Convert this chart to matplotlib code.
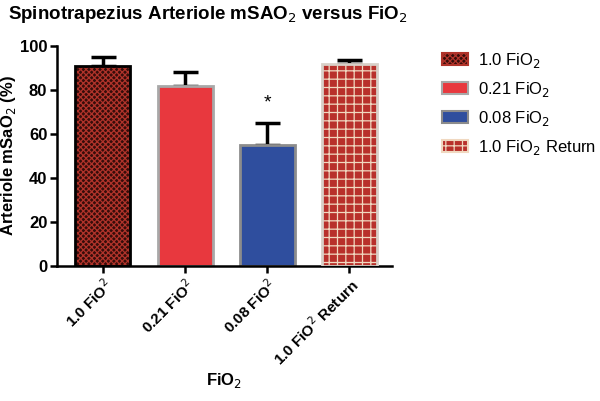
import matplotlib.pyplot as plt
from matplotlib.patches import Patch

plt.rcParams['font.family'] = ['Liberation Sans', 'DejaVu Sans']
plt.rcParams['hatch.linewidth'] = 0.9

# data
groups = ['1.0 FiO$^2$', '0.21 FiO$^2$', '0.08 FiO$^2$', '1.0 FiO$^2$ Return']
legend_labels = ['1.0 FiO$_2$', '0.21 FiO$_2$', '0.08 FiO$_2$', '1.0 FiO$_2$ Return']
means = [91, 82, 55, 92]
sem = [4, 6, 10, 1.6]
star_idx = 2
star_y = 74

faces = ['#360d0a', '#e8383e', '#2f4e9e', '#b8302b']
hatches = ['xxxxxx', None, None, '++']
hatch_cols = ['#b0332a', None, None, '#f0d8c0']
edges = ['black', '#a8a8a8', '#8c8c8c', '#d8d0c8']

fig = plt.figure(figsize=(6, 4.01), dpi=100)
ax = fig.add_axes([0.095, 0.337, 0.558, 0.548])

x = list(range(len(means)))
w = 0.67
for i in x:
    if hatches[i]:
        ax.bar(i, means[i], width=w, color=faces[i], hatch=hatches[i],
               edgecolor=hatch_cols[i], linewidth=0, zorder=2)
        ax.bar(i, means[i], width=w, fill=False, edgecolor=edges[i],
               linewidth=2, zorder=3)
    else:
        ax.bar(i, means[i], width=w, color=faces[i], edgecolor=edges[i],
               linewidth=2, zorder=2)

ax.errorbar(x, means, yerr=[[0] * len(sem), sem], fmt='none', ecolor='black',
            elinewidth=2.5, capsize=9, capthick=2.5, zorder=1)
ax.text(star_idx, star_y, '*', ha='center', va='center', fontsize=14)

ax.set_xlim(-0.56, 3.52)
ax.set_ylim(0, 100)
ax.set_yticks([0, 20, 40, 60, 80, 100])
ax.set_xticks(x)
ax.set_xticklabels(groups, rotation=45, ha='right', rotation_mode='anchor',
                   fontsize=11, fontweight='bold')
for lab in ax.get_yticklabels():
    lab.set_fontsize(12)
    lab.set_fontweight('bold')
for s in ['top', 'right']:
    ax.spines[s].set_visible(False)
for s in ['left', 'bottom']:
    ax.spines[s].set_linewidth(1.8)
ax.tick_params(width=1.8, length=5, pad=2)

ax.set_ylabel('Arteriole mSaO$_2$ (%)', fontsize=12, fontweight='bold')
ax.yaxis.set_label_coords(-0.115, 0.5)
ax.set_xlabel('FiO$_2$', fontsize=12, fontweight='bold')
ax.xaxis.set_label_coords(0.5, -0.48)
fig.text(0.013, 0.963, 'Spinotrapezius Arteriole mSAO$_2$ versus FiO$_2$',
         fontsize=13.5, fontweight='bold', va='center')

handles = []
for i in x:
    handles.append(Patch(facecolor=faces[i], hatch=hatches[i],
                         edgecolor=hatch_cols[i] if hatches[i] else edges[i],
                         linewidth=1.5))
fig.legend(handles, legend_labels, loc='upper left', bbox_to_anchor=(0.725, 0.89),
           frameon=False, fontsize=12, handlelength=1.6, handleheight=0.8,
           handletextpad=0.6, labelspacing=0.6, borderaxespad=0)

fig.savefig('out.png', dpi=100)
